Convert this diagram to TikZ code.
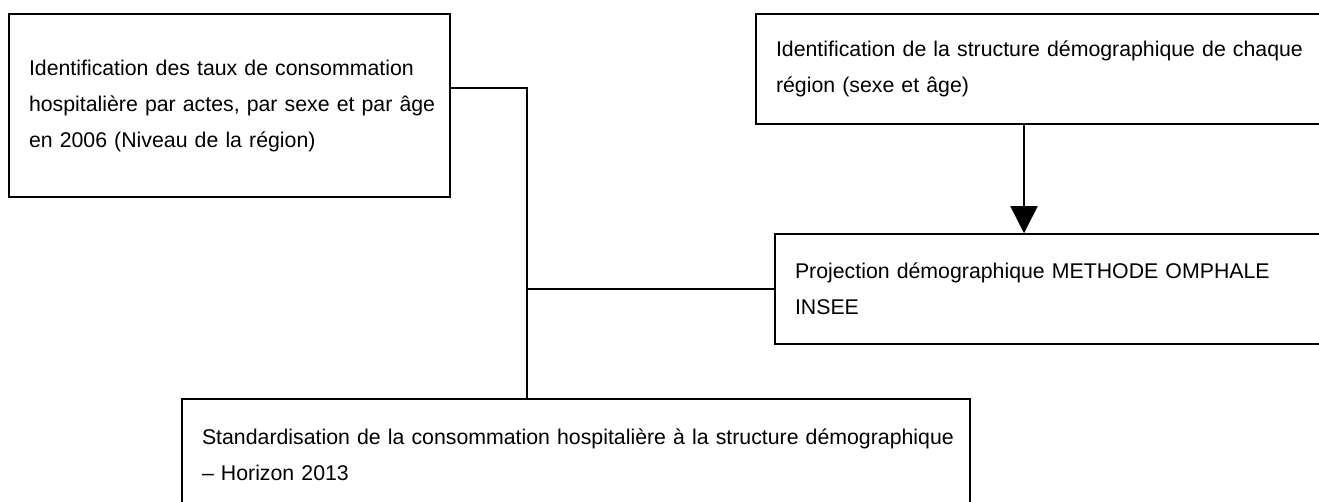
\documentclass[tikz,border=0pt]{standalone}
\usepackage{fontspec}
\setmainfont{Liberation Sans}
\usetikzlibrary{positioning, arrows.meta}

% ligne justifiee sur toute la largeur du cadre
\newcommand{\ligne}[1]{\makebox[\linewidth][s]{#1}}

\begin{document}
\begin{tikzpicture}[x=1pt, y=-1pt, line width=1.5pt,
  boite/.style={draw, rectangle, inner xsep=20pt, inner ysep=0pt, align=left,
    font=\fontsize{21.3}{36}\selectfont},
  fleche/.style={-{Triangle[length=27pt,width=27pt]}}]
  \path[use as bounding box, clip] (0,0) rectangle (1319,502);
  \fill[white] (0,0) rectangle (1319,502);

  \node[boite, text width=401pt, minimum height=183pt] (taux) at (229.5,105.5)
    {\ligne{Identification des taux de consommation}\\
     \ligne{hospitalière par actes, par sexe et par âge}\\
     en 2006 (Niveau de la région)};
  \node[boite, text width=533pt, minimum height=110pt] (struct) at (1042.5,69)
    {\ligne{Identification de la structure démographique de chaque}\\
     région (sexe et âge)};
  \node[boite, text width=513pt, minimum height=110pt] (proj) at (1051.5,289)
    {\ligne{Projection démographique METHODE OMPHALE}\\
     INSEE};
  \node[boite, text width=748pt, minimum height=111pt] (std) at (576,454.5)
    {\ligne{Standardisation de la consommation hospitalière à la structure démographique}\\
     – Horizon 2013};

  \coordinate (coude) at (527,88);
  \coordinate (axe) at (1024,0);
  \draw (taux.east |- coude) -- (coude) -- (coude |- std.north);
  \draw (coude |- proj.west) -- (proj.west);
  \draw[fleche] (axe |- struct.south) -- (axe |- proj.north);
\end{tikzpicture}
\end{document}
